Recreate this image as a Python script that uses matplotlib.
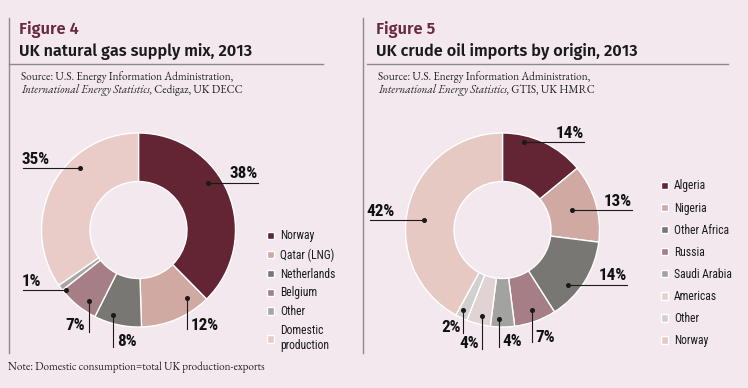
import matplotlib
matplotlib.use('Agg')
import matplotlib.pyplot as plt
from matplotlib import font_manager

W, H = 748, 388
BG = '#f2e8ee'

# ---- data ----
gas_labels = ['Norway', 'Qatar (LNG)', 'Netherlands', 'Belgium', 'Other', 'Domestic\nproduction']
gas_share = [38, 12, 8, 7, 1, 35]
gas_colors = ['#632433', '#d1a9a3', '#787774', '#a67e86', '#a6a6a6', '#e9cbc7']

oil_labels = ['Algeria', 'Nigeria', 'Other Africa', 'Russia', 'Saudi Arabia', 'Americas', 'Other', 'Norway']
oil_share = [14, 13, 14, 7, 4, 4, 2, 42]
oil_colors = ['#632433', '#d1a9a3', '#787774', '#a67e86', '#a2a2a0', '#e1d3d3', '#d0d0d0', '#e7c9c3']

# ---- layout (pixels, top-down) ----
# label leader: dot (x, y), line end (x, y), text (x, y, ha)
gas_leaders = [
    ((208, 183), (258, 183), (258, 173, 'right')),
    ((187, 298), (187, 329), (191, 325, 'left')),
    ((113, 315), (113, 347), (117, 341, 'left')),
    ((89, 301), (89, 332), (85, 326, 'right')),
    ((66, 290), (23, 290), (22, 281, 'left')),
    ((80, 168), (23, 168), (22, 159, 'left')),
]
oil_leaders = [
    ((524, 142), (584, 142), (584, 133, 'right')),
    ((572, 210), (632, 210), (632, 201, 'right')),
    ((568, 285), (627, 285), (627, 276, 'right')),
    ((532, 310), (532, 342), (535, 337, 'left')),
    ((499, 319), (499, 347), (502, 341, 'left')),
    ((482, 316), (482, 349), (479, 344, 'right')),
    ((463, 310), (463, 333), (461, 327, 'right')),
    ((424, 220), (370, 220), (366, 211, 'left')),
]

narrow = ['Roboto Condensed', 'DejaVu Sans']
title_font = ['Fira Sans', 'DejaVu Sans']
serif = ['EB Garamond', 'Liberation Serif']

fig = plt.figure(figsize=(W / 100, H / 100), dpi=100, facecolor=BG)
ax = fig.add_axes([0, 0, 1, 1])
ax.set_facecolor(BG)

R = 97
# y axis is inverted below (pixel coords), so counterclock=True + startangle=-90
# draws clockwise from 12 o'clock on screen
gas_wedges, _ = ax.pie(gas_share, colors=gas_colors, center=(138.5, 230), radius=R,
                       startangle=-90, counterclock=True,
                       wedgeprops=dict(width=R * 0.5, edgecolor='white', linewidth=1))
oil_wedges, _ = ax.pie(oil_share, colors=oil_colors, center=(502.5, 230), radius=R,
                       startangle=-90, counterclock=True,
                       wedgeprops=dict(width=R * 0.5, edgecolor='white', linewidth=1))
ax.set_xlim(0, W)
ax.set_ylim(H, 0)
ax.set_aspect('auto')
ax.axis('off')

def leaders(spec, values):
    for (d, e, t), v in zip(spec, values):
        ax.plot([d[0], e[0]], [d[1], e[1]], color='#1a1a1a', lw=0.8, zorder=5)
        ax.plot(d[0], d[1], 'o', color='#1a1a1a', ms=2.6, zorder=6)
        ax.text(t[0], t[1], f'{v}%', ha=t[2], va='center', family=narrow,
                fontweight='black', fontsize=12.3, color='#111111', zorder=6)

leaders(gas_leaders, gas_share)
leaders(oil_leaders, oil_share)

# frames
line_c = '#8e8a8c'
ax.plot([9.5, 9.5], [18, 353], color=line_c, lw=1)
ax.plot([363.5, 363.5], [18, 353], color=line_c, lw=1)
ax.plot([9.5, 323], [63.5, 63.5], color=line_c, lw=1)
ax.plot([367, 728], [63.5, 63.5], color=line_c, lw=1)

# titles
for x0, num, title, src in [
    (19, 'Figure 4', 'UK natural gas supply mix, 2013', 'Cedigaz, UK DECC'),
    (376, 'Figure 5', 'UK crude oil imports by origin, 2013', 'GTIS, UK HMRC'),
]:
    ax.text(x0, 34, num, family=title_font, fontweight='semibold', fontsize=11.8,
            color='#6b2a3c', va='baseline')
    ax.text(x0, 56, title, family=title_font, fontweight='semibold', fontsize=11.7,
            color='#1a1a1a', va='baseline')
    ax.text(x0 + 2, 80, 'Source: U.S. Energy Information Administration,',
            family=serif, fontsize=8.1, color='#222222', va='baseline')
    t = ax.text(x0 + 2, 92.5, 'International Energy Statistics,', family=serif,
                fontsize=8.1, style='italic', color='#222222', va='baseline')
    ax.annotate(' ' + src, xy=(1, 0), xycoords=t, va='bottom', family=serif,
                fontsize=8.1, color='#222222')

ax.text(8, 370, 'Note: Domestic consumption=total UK production-exports',
        family=serif, fontsize=8.0, color='#222222', va='baseline')

# legends
legend_kw = dict(loc='upper left', bbox_transform=fig.transFigure, frameon=False,
                 prop=font_manager.FontProperties(family=narrow, size=8.4),
                 handlelength=0.6, handleheight=0.6, handletextpad=0.5,
                 borderpad=0, borderaxespad=0)
leg1 = ax.legend(gas_wedges, gas_labels, bbox_to_anchor=(267 / W, 1 - 229.5 / H),
                 labelspacing=0.5, **legend_kw)
for tx in leg1.get_texts():
    tx.set_color('#1a1a1a')
ax.add_artist(leg1)
leg2 = ax.legend(oil_wedges, oil_labels, bbox_to_anchor=(661 / W, 1 - 179.5 / H),
                 labelspacing=0.78, **legend_kw)
for tx in leg2.get_texts():
    tx.set_color('#1a1a1a')

fig.savefig('out.png', dpi=100, facecolor=BG)
